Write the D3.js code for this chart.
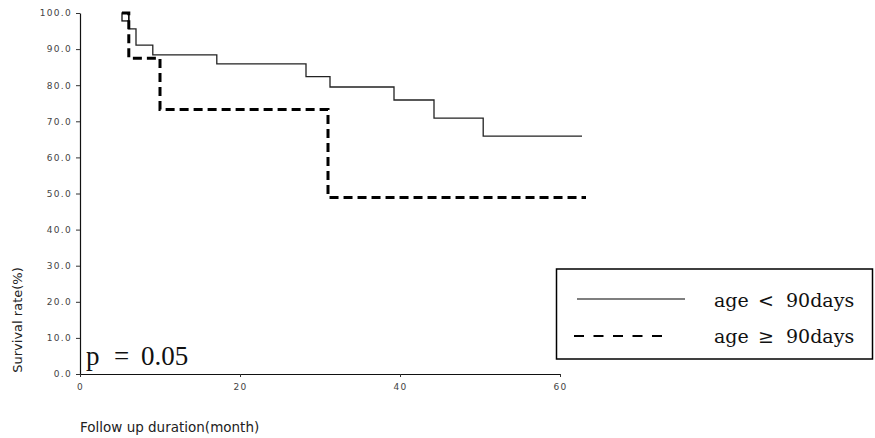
<!DOCTYPE html>
<html>
<head>
<meta charset="utf-8">
<script src="https://cdn.jsdelivr.net/npm/d3@7"></script>
<style>
  body { margin: 0; background: #fff; }
  svg { display: block; }
</style>
</head>
<body>
<svg width="875" height="438"></svg>
<script>
// survival curves (month, survival %)
const youngTimes = [5.25, 6.1, 7.0, 9.1, 17.1, 28.25, 31.25, 39.25, 44.25, 50.4, 62.75];
const youngRates = [100, 95.6, 91.1, 88.4, 85.9, 82.4, 79.5, 75.9, 70.9, 65.9, 65.9];
const oldTimes = [5.25, 6.1, 10.0, 31.0, 63.25];
const oldRates = [100, 87.5, 73.3, 48.9, 48.9];

const yTicks = [0, 10, 20, 30, 40, 50, 60, 70, 80, 90, 100];
const xTicks = [0, 20, 40, 60];

const legendLabels = ["age", "<", "90days", "age", "≥", "90days"];

var svg = d3.select("svg");

var x = d3.scaleLinear().domain([0, 60]).range([80, 560]);
var y = d3.scaleLinear().domain([0, 100]).range([374, 13]);

//axes
var yAxis = svg.append("g")
    .attr("transform", "translate(80,0)")
    .call(d3.axisLeft(y).tickValues(yTicks).tickSize(4).tickSizeOuter(0).tickPadding(4)
        .tickFormat(d3.format(".1f")));

var xAxis = svg.append("g")
    .attr("transform", "translate(0,374)")
    .call(d3.axisBottom(x).tickValues(xTicks).tickSize(3).tickSizeOuter(0).tickPadding(7));

[yAxis, xAxis].forEach(g => {
    g.select(".domain").attr("stroke", "#111").attr("stroke-width", 1.2);
    g.selectAll(".tick line").attr("stroke", "#333");
    g.selectAll(".tick text")
        .attr("fill", "#444")
        .attr("font-family", "DejaVu Sans")
        .attr("font-size", 9)
        .attr("letter-spacing", 1.3);
});

//curves
var line = d3.line()
    .x(d => x(d[0]))
    .y(d => y(d[1]))
    .curve(d3.curveStepAfter);

svg.append("path")
    .datum(d3.zip(youngTimes, youngRates))
    .attr("d", line)
    .attr("fill", "none")
    .attr("stroke", "#222")
    .attr("stroke-width", 1.3);

// small box at the start of the curves
svg.append("rect")
    .attr("x", x(youngTimes[0]))
    .attr("y", y(100))
    .attr("width", x(oldTimes[1]) - x(youngTimes[0]))
    .attr("height", y(97.8) - y(100))
    .attr("fill", "none")
    .attr("stroke", "#111")
    .attr("stroke-width", 1.3);

svg.append("path")
    .datum(d3.zip(oldTimes, oldRates))
    .attr("d", line)
    .attr("fill", "none")
    .attr("stroke", "#000")
    .attr("stroke-width", 3)
    .attr("stroke-dasharray", "9,5");

//axis titles
svg.append("text")
    .attr("transform", "translate(22,320) rotate(-90)")
    .attr("text-anchor", "middle")
    .attr("font-family", "DejaVu Sans")
    .attr("font-size", 13)
    .attr("fill", "#222")
    .text("Survival rate(%)");

svg.append("text")
    .attr("x", 80)
    .attr("y", 432)
    .attr("font-family", "DejaVu Sans")
    .attr("font-size", 13.5)
    .attr("fill", "#222")
    .text("Follow up duration(month)");

// p value
var pText = svg.append("text")
    .attr("y", 365)
    .attr("font-family", "Liberation Serif")
    .attr("font-size", 27)
    .attr("fill", "#111");
pText.append("tspan").attr("x", 86).text("p");
pText.append("tspan").attr("x", 114).text("=");
pText.append("tspan").attr("x", 141).text("0.05");

//legend
var legend = svg.append("g");
legend.append("rect")
    .attr("x", 556.5)
    .attr("y", 269)
    .attr("width", 316)
    .attr("height", 90)
    .attr("fill", "#fff")
    .attr("stroke", "#000")
    .attr("stroke-width", 1.5);

legend.append("line")
    .attr("x1", 577).attr("x2", 685)
    .attr("y1", 299).attr("y2", 299)
    .attr("stroke", "#000").attr("stroke-width", 1.2);

legend.append("line")
    .attr("x1", 574).attr("x2", 670)
    .attr("y1", 336).attr("y2", 336)
    .attr("stroke", "#000").attr("stroke-width", 2.2)
    .attr("stroke-dasharray", "10,9.5");

var labelX = [714, 758, 786];
[307, 343].forEach((yy, row) => {
    var t = legend.append("text")
        .attr("y", yy)
        .attr("font-family", "DejaVu Serif")
        .attr("font-size", 19)
        .attr("fill", "#111");
    labelX.forEach((lx, i) => {
        t.append("tspan").attr("x", lx).text(legendLabels[row * 3 + i]);
    });
});
</script>
</body>
</html>
